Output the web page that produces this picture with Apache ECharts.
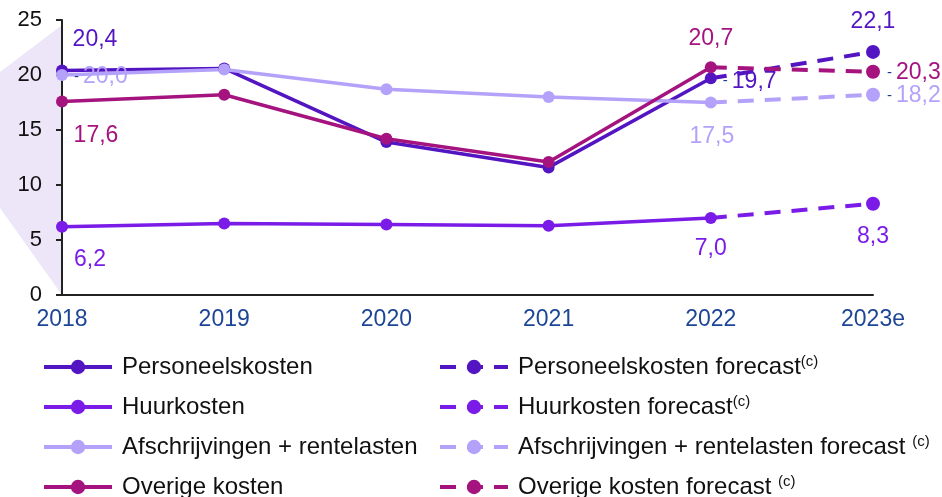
<!DOCTYPE html>
<html>
<head>
<meta charset="utf-8">
<script src="https://cdn.jsdelivr.net/npm/echarts@6/dist/echarts.min.js"></script>
<style>
  html, body { margin: 0; padding: 0; background: #fff; }
  #chart { width: 942px; height: 497px; }
</style>
</head>
<body>
<div id="chart"></div>
<script>
// categorieën en waarden
const years = ['2018', '2019', '2020', '2021', '2022', '2023e'];
const personeel = [20.4, 20.6, 13.9, 11.6, 19.7, null];
const huur = [6.2, 6.5, 6.4, 6.3, 7.0, null];
const afschr = [20.0, 20.5, 18.7, 18.0, 17.5, null];
const overige = [17.6, 18.2, 14.2, 12.1, 20.7, null];
const personeelFc = [null, null, null, null, 19.7, 22.1];
const huurFc = [null, null, null, null, 7.0, 8.3];
const afschrFc = [null, null, null, null, 17.5, 18.2];
const overigeFc = [null, null, null, null, 20.7, 20.3];
const yTicks = [0, 5, 10, 15, 20, 25];

const names = ['Personeelskosten', 'Huurkosten', 'Afschrijvingen + rentelasten', 'Overige kosten'];
const colors = ['#5315c2', '#7a1be8', '#b4a2fa', '#a5137f'];
const FONT = 'Arial, "Liberation Sans", sans-serif';

// label plaatsing per punt (index -> stijl)
const labelPos = {
  0: { 0: { position: 'inside', offset: [33, -31] }, 4: { position: 'right', distance: 6, offset: [0, 3], dash: true } },
  1: { 0: { position: 'inside', offset: [28, 33] }, 4: { position: 'inside', offset: [0, 31] } },
  2: { 0: { position: 'right', distance: 6, offset: [0, 2], dash: true }, 4: { position: 'inside', offset: [1, 34] } },
  3: { 0: { position: 'inside', offset: [34, 34] }, 4: { position: 'inside', offset: [0, -29] } }
};
const labelPosFc = {
  0: { 5: { position: 'inside', offset: [0, -30] } },
  1: { 5: { position: 'inside', offset: [0, 33] } },
  2: { 5: { position: 'right', distance: 7, offset: [0, 1], dash: true } },
  3: { 5: { position: 'right', distance: 7, offset: [0, 1], dash: true } }
};

function fmt(v) {
  return v.toFixed(1).replace('.', ',');
}

function buildData(arr, si, posMap, hideIdx) {
  return arr.map((v, i) => {
    if (v === null) return null;
    const item = { value: v };
    const p = posMap[si][i];
    if (p) {
      item.label = {
        show: true,
        position: p.position,
        offset: p.offset,
        distance: p.distance || 5,
        formatter: p.dash ? '{d|-}' + fmt(v) : fmt(v),
        color: colors[si],
        fontSize: 23,
        fontFamily: FONT,
        rich: { d: { color: '#1f3c88', fontSize: 15, fontFamily: FONT, padding: [0, 4, 0, 0] } }
      };
    }
    if (i === hideIdx) {
      item.symbolSize = 0;
    }
    return item;
  });
}

const solid = [personeel, huur, afschr, overige];
const fc = [personeelFc, huurFc, afschrFc, overigeFc];

const series = [];
solid.forEach((arr, si) => {
  series.push({
    name: names[si],
    type: 'line',
    data: buildData(arr, si, labelPos, -1),
    symbol: 'circle',
    symbolSize: 12,
    color: colors[si],
    lineStyle: { width: 3.5, color: colors[si] },
    itemStyle: { color: colors[si] },
    z: 3
  });
});
fc.forEach((arr, si) => {
  series.push({
    name: names[si] + ' forecast',
    type: 'line',
    data: buildData(arr, si, labelPosFc, 4),
    symbol: 'circle',
    symbolSize: 14,
    color: colors[si],
    lineStyle: { width: 4, type: [16, 11], color: colors[si] },
    itemStyle: { color: colors[si] },
    z: 2
  });
});

const chart = echarts.init(document.getElementById('chart'));
const legendText = {
  color: '#111',
  fontSize: 24,
  fontFamily: FONT,
  lineHeight: 26,
  padding: [0, 0, 0, 5],
  rich: { s: { fontSize: 15, fontFamily: FONT, verticalAlign: 'top', lineHeight: 18 } }
};
const legendBase = {
  orient: 'vertical',
  top: 354,
  height: 170,
  padding: 0,
  itemWidth: 68,
  itemHeight: 18,
  itemGap: 14,
  lineStyle: { width: 4 },
  textStyle: legendText
};
chart.setOption({
  animation: false,
  grid: { left: 62, right: 69, top: 20, bottom: 202 },
  graphic: [{
    type: 'polygon',
    z: -10,
    shape: { points: [[62, 25], [0, 72], [0, 208], [62, 295]] },
    style: { fill: '#ede6f8' }
  }],
  legend: [Object.assign({}, legendBase, {
    data: names,
    left: 42
  }), Object.assign({}, legendBase, {
    data: names.map(n => n + ' forecast'),
    left: 438,
    formatter: n => (n.indexOf('Afschr') === 0 || n.indexOf('Overige') === 0) ? n + ' {s|(c)}' : n + '{s|(c)}'
  })],
  xAxis: {
    type: 'category',
    data: years,
    boundaryGap: false,
    axisLine: { lineStyle: { color: '#222', width: 2 } },
    axisTick: { show: false },
    axisLabel: { color: '#1d4596', fontSize: 23, fontFamily: FONT, margin: 13 }
  },
  yAxis: {
    type: 'value',
    min: yTicks[0],
    max: yTicks[yTicks.length - 1],
    interval: 5,
    axisLine: { show: true, lineStyle: { color: '#222', width: 2 } },
    axisTick: { show: true, length: 6, lineStyle: { color: '#222', width: 2 } },
    splitLine: { show: false },
    axisLabel: { color: '#111', fontSize: 22, fontFamily: FONT, margin: 20 }
  },
  series: series
});
</script>
</body>
</html>
